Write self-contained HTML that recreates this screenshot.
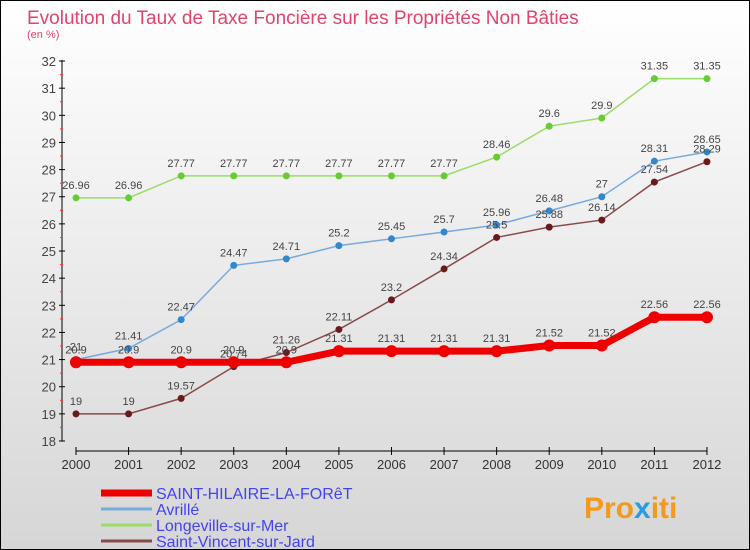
<!DOCTYPE html>
<html><head><meta charset="utf-8"><style>
body{margin:0}
#c{width:748px;height:548px;border:1px solid #000;background:linear-gradient(#fff,#d6d6d6);position:relative;font-family:"Liberation Sans",sans-serif;overflow:hidden}
</style></head><body>
<div id="c">
<svg id="s" width="748" height="548" style="position:absolute;left:0;top:0">
<text x="26" y="23" font-size="19" fill="#e0446a">Evolution du Taux de Taxe Foncière sur les Propriétés Non Bâties</text>
<text x="26" y="37" font-size="11" fill="#e0446a">(en %)</text>
<text x="583" y="517" font-size="30" font-weight="bold" fill="#f39a1e">Pro<tspan fill="#2a9de0">x</tspan>iti</text>
</svg>
</div>
<script>
const years=[2000,2001,2002,2003,2004,2005,2006,2007,2008,2009,2010,2011,2012];
const yTicks=[18,19,20,21,22,23,24,25,26,27,28,29,30,31,32];
const sHilaire=[20.9,20.9,20.9,20.9,20.9,21.31,21.31,21.31,21.31,21.52,21.52,22.56,22.56];
const avrille=[21,21.41,22.47,24.47,24.71,25.2,25.45,25.7,25.96,26.48,27,28.31,28.65];
const longeville=[26.96,26.96,27.77,27.77,27.77,27.77,27.77,27.77,28.46,29.6,29.9,31.35,31.35];
const sVincent=[19,19,19.57,20.74,21.26,22.11,23.2,24.34,25.5,25.88,26.14,27.54,28.29];
const names=["SAINT-HILAIRE-LA-FORêT","Avrillé","Longeville-sur-Mer","Saint-Vincent-sur-Jard"];
const NS="http://www.w3.org/2000/svg",s=document.getElementById('s');
const X=i=>75+i*52.58, Y=v=>440-(v-18)*27.14;
function mk(t,a,p){const e=document.createElementNS(NS,t);for(const k in a)e.setAttribute(k,a[k]);(p||s).appendChild(e);return e;}
let g=mk('g',{});


mk('line',{x1:61,y1:59,x2:61,y2:440,stroke:'#000'},g);
yTicks.forEach(v=>{mk('line',{x1:58,x2:64,y1:Y(v),y2:Y(v),stroke:'#000'},g);
 if(v<32)mk('line',{x1:59,x2:62,y1:Y(v+0.5),y2:Y(v+0.5),stroke:'#f33'},g);
 const t=mk('text',{x:55,y:Y(v)+5,'text-anchor':'end','font-size':13,fill:'#444'},g);t.textContent=v;});
g=mk('g',{});


mk('line',{x1:75,y1:450,x2:706,y2:450,stroke:'#000'},g);
years.forEach((y,i)=>{mk('line',{x1:X(i),x2:X(i),y1:446,y2:454,stroke:'#000'},g);
 const t=mk('text',{x:X(i),y:468,'text-anchor':'middle','font-size':13,fill:'#333'},g);t.textContent=y;});
const series=[[longeville,'#99dd66','#66cc33',1.5,3.5,'longeville'],[avrille,'#77aadd','#3388cc',1.5,3.5,'avrille'],[sVincent,'#8b4a4a','#6a1a1a',1.5,3.5,'saint-vincent'],[sHilaire,'#ee0000','#ee0000',7,6,'saint-hilaire']];
series.forEach(([d,c,mc,w,r,n])=>{
 const gg=mk('g',{});
 
 
 mk('polyline',{points:d.map((v,i)=>X(i)+','+Y(v)).join(' '),fill:'none',stroke:c,'stroke-width':w},gg);
 d.forEach((v,i)=>{const p=mk('circle',{cx:X(i),cy:Y(v),r:r,fill:mc},gg);
  
  
  const t=mk('text',{x:X(i),y:Y(v)-9,'text-anchor':'middle','font-size':11,fill:'#444'},gg);t.textContent=v;});
});
const lc=['#ee0000','#77aadd','#99dd66','#8b4a4a'],lw=[7,3,3,3];
names.forEach((n,i)=>{const y=492+i*16;const gg=mk('g',{});
 
 
 mk('line',{x1:100,x2:151,y1:y,y2:y,stroke:lc[i],'stroke-width':lw[i]},gg);
 const t=mk('text',{x:155,y:y+6,'font-size':16,fill:'#4444ee'},gg);t.textContent=n;});
</script>
</body></html>
